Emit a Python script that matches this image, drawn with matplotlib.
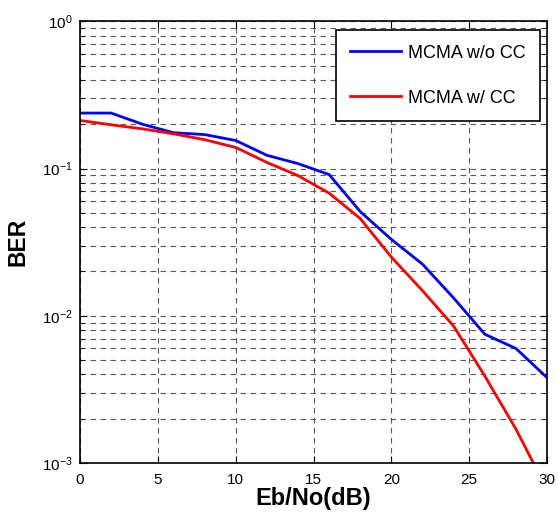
import numpy as np
import matplotlib
matplotlib.use("Agg")
import matplotlib.pyplot as plt
from matplotlib.ticker import LogLocator, NullFormatter

plt.rcParams['font.family'] = ['Liberation Sans', 'DejaVu Sans']
plt.rcParams['mathtext.fontset'] = 'custom'
plt.rcParams['mathtext.rm'] = 'Liberation Sans'

# BER curves, Eb/No from 0 to 30 dB in steps of 2
ebno = [0, 2, 4, 6, 8, 10, 12, 14, 16, 18, 20, 22, 24, 26, 28, 30]
ber_no_cc = [0.238, 0.238, 0.200, 0.175, 0.170, 0.155, 0.123, 0.108, 0.091,
             0.051, 0.033, 0.0224, 0.0132, 0.0075, 0.0060, 0.0038]
ber_cc = [0.212, 0.198, 0.186, 0.172, 0.157, 0.139, 0.110, 0.0895, 0.068,
          0.0457, 0.025, 0.0148, 0.0085, 0.0039, 0.0017, 0.00066]

fig = plt.figure(figsize=(5.58, 5.18), dpi=100)
ax = fig.add_axes([0.1434, 0.106, 0.837, 0.853])

ax.semilogy(ebno, ber_no_cc, color='#0000ff', lw=2, label='MCMA w/o CC')
ax.semilogy(ebno, ber_cc, color='#ff0000', lw=2, label='MCMA w/ CC')

ax.set_xlim(0, 30)
ax.set_ylim(1e-3, 1)
ax.set_xticks([0, 5, 10, 15, 20, 25, 30])
ax.yaxis.set_major_locator(LogLocator(base=10, numticks=10))
ax.yaxis.set_minor_locator(LogLocator(base=10, subs=np.arange(2, 10), numticks=10))
ax.yaxis.set_minor_formatter(NullFormatter())

grid_style = dict(color='0.35', linestyle=(0, (5, 4)), linewidth=0.8)
ax.grid(True, which='major', axis='both', **grid_style)
ax.grid(True, which='minor', axis='y', **grid_style)

ax.tick_params(which='both', direction='in', top=True, right=True, labelsize=11)
ax.tick_params(which='major', length=5)
ax.tick_params(which='minor', length=3)
ax.tick_params(axis='x', pad=7)
ax.tick_params(axis='y', pad=5)
for s in ax.spines.values():
    s.set_linewidth(1.2)

ax.set_xlabel('Eb/No(dB)', fontsize=17, fontweight='bold', labelpad=0)
ax.set_ylabel('BER', fontsize=16.5, fontweight='bold', labelpad=9)

leg = ax.legend(loc='upper right', fontsize=13, handlelength=2.8,
                handletextpad=0.4, labelspacing=1.55, borderpad=0.8,
                borderaxespad=0, fancybox=False, edgecolor='black',
                framealpha=1, bbox_to_anchor=(0.985, 0.98))
leg.get_frame().set_linewidth(1.2)

fig.savefig('out.png', dpi=100)
